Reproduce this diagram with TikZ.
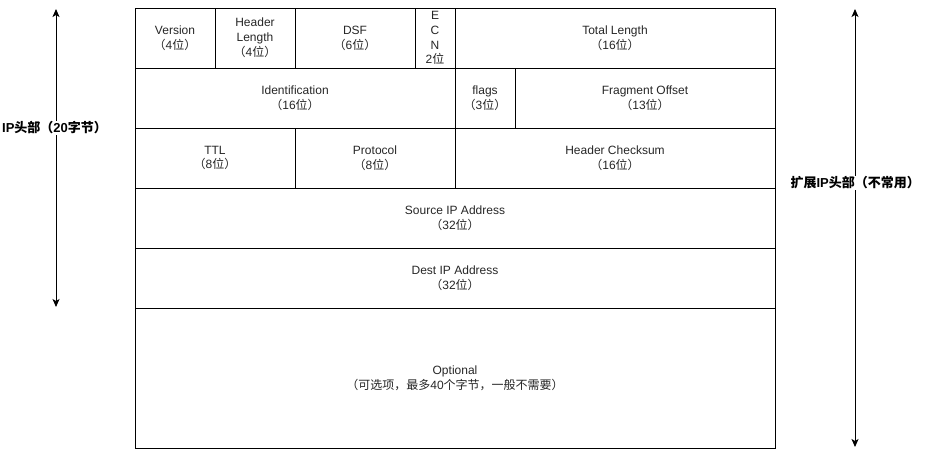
\documentclass[tikz,border=0pt]{standalone}
\usepackage{fontspec}
\setmainfont{Liberation Sans}
\newfontfamily\cjk{Noto Sans CJK SC}
\usetikzlibrary{arrows.meta}
\newcommand{\zh}[1]{{\cjk #1}}
\begin{document}
\begin{tikzpicture}[x=1pt,y=-1pt,
  cell/.style={draw=black, line width=1pt, align=center, inner sep=0pt,
    font=\fontsize{12}{14.8}\selectfont, text=black!85},
  sidelabel/.style={fill=white, inner sep=1pt, font=\fontsize{13}{15}\selectfont\bfseries},
  sizearrow/.style={line width=1pt, {Stealth[length=8pt,width=7pt,inset=2pt]}-{Stealth[length=8pt,width=7pt,inset=2pt]}}]
\useasboundingbox (0,0) rectangle (926,458);
% row 1
\node[cell, minimum width=80, minimum height=60] (ver) at (175,38) {Version\\\zh{（}4\zh{位）}};
\node[cell, minimum width=80, minimum height=60] (hl) at (255,38) {Header\\Length\\\zh{（}4\zh{位）}};
\node[cell, minimum width=120, minimum height=60] (dsf) at (355,38) {DSF\\\zh{（}6\zh{位）}};
\node[cell, minimum width=40, minimum height=60] (ecn) at (435,38) {E\\C\\N\\2\zh{位}};
\node[cell, minimum width=320, minimum height=60] (tl) at (615,38) {Total Length\\\zh{（}16\zh{位）}};
% row 2
\node[cell, minimum width=320, minimum height=60] (id) at (295,98) {Identification\\\zh{（}16\zh{位）}};
\node[cell, minimum width=60, minimum height=60] (fl) at (485,98) {flags\\\zh{（}3\zh{位）}};
\node[cell, minimum width=260, minimum height=60] (fo) at (645,98) {Fragment Offset\\\zh{（}13\zh{位）}};
% row 3
\node[cell, minimum width=160, minimum height=60] (ttl) at (215,158) {TTL\\\zh{（}8\zh{位）}};
\node[cell, minimum width=160, minimum height=60] (pro) at (375,158) {Protocol\\\zh{（}8\zh{位）}};
\node[cell, minimum width=320, minimum height=60] (hc) at (615,158) {Header Checksum\\\zh{（}16\zh{位）}};
% row 4,5
\node[cell, minimum width=640, minimum height=60] (src) at (455,218) {Source IP Address\\\zh{（}32\zh{位）}};
\node[cell, minimum width=640, minimum height=60] (dst) at (455,278) {Dest IP Address\\\zh{（}32\zh{位）}};
% row 6
\node[cell, minimum width=640, minimum height=140] (opt) at (455,378) {Optional\\\zh{（可选项，最多}40\zh{个字节，一般不需要）}};
% arrows
\coordinate (lt) at (56,9);
\coordinate (lb) at (56,307);
\coordinate (rt) at (855,9);
\coordinate (rb) at (855,447);
\draw[sizearrow] (lt) -- (lb);
\draw[sizearrow] (rt) -- (rb);
\node[sidelabel, anchor=west] (ll) at (1,128) {IP\zh{头部（}20\zh{字节）}};
\node[sidelabel, anchor=east] (rl) at (921,183) {\zh{扩展}IP\zh{头部（不常用）}};
\end{tikzpicture}
\end{document}
